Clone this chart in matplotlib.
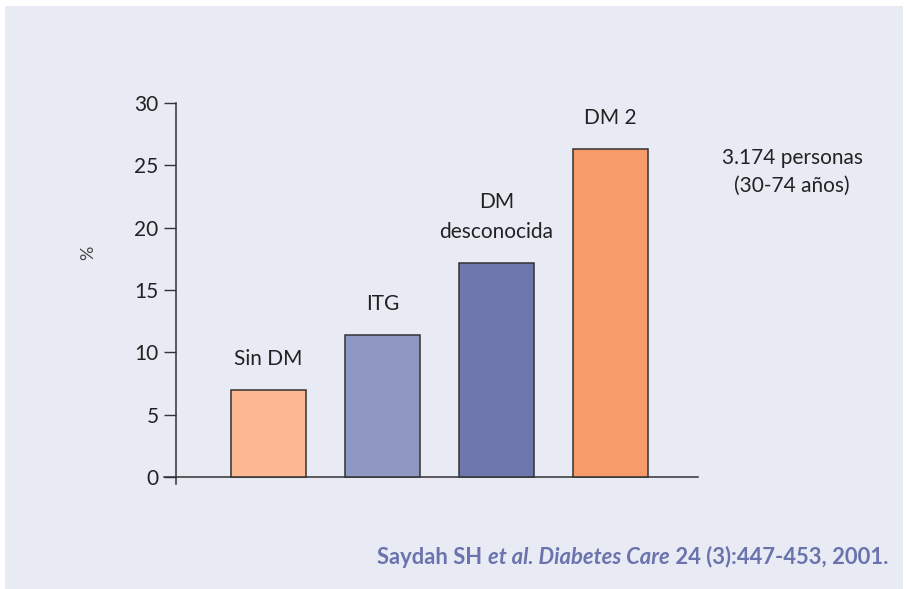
import matplotlib
matplotlib.use('Agg')
import matplotlib.pyplot as plt
from matplotlib.patches import Rectangle

categories = ['Sin DM', 'ITG', 'DM\ndesconocida', 'DM 2']
values = [7.0, 11.4, 17.2, 26.3]
colors = ['#fbb892', '#8f97c3', '#6d77ae', '#f79b6b']
yticks = [0, 5, 10, 15, 20, 25, 30]
note = '3.174 personas\n(30-74 años)'
citation = [('Saydah SH ', 'normal'),
            ('et al. Diabetes Care', 'italic'),
            (' 24 (3):447-453, 2001.', 'normal')]

plt.rcParams['font.family'] = ['Lato', 'DejaVu Sans']

W, H = 906, 589
fig = plt.figure(figsize=(W / 100, H / 100), dpi=100)

# light panel behind the chart
fig.patches.append(Rectangle((5 / W, 0), 898 / W, 583 / H, transform=fig.transFigure,
                             facecolor='#e8ebf4', edgecolor='none', zorder=-5))

ax = fig.add_axes([164 / W, 105 / H, 534 / W, 381.3 / H])
ax.set_facecolor('none')
ax.set_zorder(2)

x = list(range(len(values)))
ax.bar(x, values, width=0.66, color=colors, edgecolor='#333333', linewidth=1.1, zorder=3)

ax.set_xlim(-0.917, 3.768)
ax.set_ylim(-0.54, 30)
ax.set_xticks([])
ax.set_yticks(yticks)
ax.tick_params(axis='y', length=8.6, width=1.0, color='#333333', pad=4,
               labelsize=15, labelcolor='#222222')

for s in ['top', 'right']:
    ax.spines[s].set_visible(False)
ax.spines['left'].set_position(('data', -0.811))
ax.spines['left'].set_bounds(-0.54, 30)
ax.spines['bottom'].set_position(('data', 0))
for s in ['left', 'bottom']:
    ax.spines[s].set_color('#333333')
    ax.spines[s].set_linewidth(1.1)

# category names above each bar
for xi, v, lab in zip(x, values, categories):
    ax.annotate(lab, (xi, v), xytext=(0, 15), textcoords='offset points',
                ha='center', va='bottom', fontsize=15, color='#222222',
                linespacing=1.6)

fig.text(88 / W, 1 - 253 / H, '%', rotation=90, ha='center', va='center',
         fontsize=13, color='#444444')

fig.text(792 / W, 1 - 172 / H, note, ha='center', va='center', fontsize=15,
         color='#222222', linespacing=1.5)

# reference line at the bottom, mixed upright / italic pieces, right aligned
renderer = fig.canvas.get_renderer()
pieces = []
for txt, style in citation:
    t = fig.text(0, 1 - 557 / H, txt, ha='left', va='center', fontsize=15.8,
                 fontweight='bold', fontstyle=style, color='#6a73ad')
    pieces.append(t)
widths = [p.get_window_extent(renderer).width for p in pieces]
xpos = 888 - sum(widths)
for p, w in zip(pieces, widths):
    p.set_x(xpos / W)
    xpos += w

fig.savefig('out.png', dpi=100)
